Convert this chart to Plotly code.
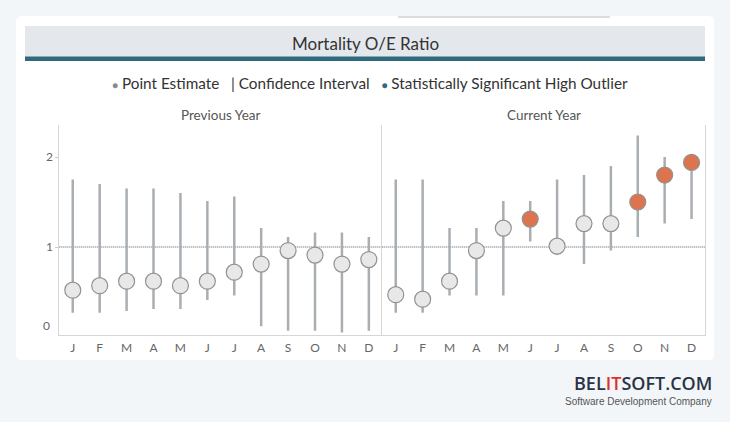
import plotly.graph_objects as go

months = ["J", "F", "M", "A", "M", "J", "J", "A", "S", "O", "N", "D"]
prev_est = [0.52, 0.57, 0.62, 0.62, 0.57, 0.62, 0.72, 0.81, 0.96, 0.91, 0.81, 0.86]
prev_low = [0.27, 0.27, 0.29, 0.31, 0.31, 0.41, 0.46, 0.12, 0.07, 0.07, 0.05, 0.07]
prev_high = [1.75, 1.70, 1.65, 1.65, 1.60, 1.51, 1.56, 1.21, 1.11, 1.16, 1.16, 1.11]
prev_outlier = [0, 0, 0, 0, 0, 0, 0, 0, 0, 0, 0, 0]
cur_est = [0.47, 0.42, 0.62, 0.96, 1.21, 1.31, 1.01, 1.26, 1.26, 1.50, 1.80, 1.94]
cur_low = [0.27, 0.27, 0.46, 0.46, 0.46, 1.06, 0.91, 0.81, 0.96, 1.11, 1.26, 1.31]
cur_high = [1.75, 1.75, 1.21, 1.21, 1.51, 1.51, 1.75, 1.80, 1.90, 2.24, 2.00, 1.94]
cur_outlier = [0, 0, 0, 0, 0, 1, 0, 0, 0, 1, 1, 1]
y_ticks = [1, 2]
ref_value = 1

W, H = 730, 422
def px(x):
    return x / W
def py(y):
    return 1 - y / H

FILL = "#e8e8e8"
ORANGE = "#dd7450"
WHISK = "#a9aeb3"
TEAL = "#2f6b7d"
FONT = "Lato"

fig = go.Figure()
idx = list(range(12))
for est, lo, hi, out, xa, ya in [
    (prev_est, prev_low, prev_high, prev_outlier, "x", "y"),
    (cur_est, cur_low, cur_high, cur_outlier, "x2", "y2"),
]:
    fig.add_trace(go.Scatter(
        x=idx, y=est, xaxis=xa, yaxis=ya, mode="markers",
        marker=dict(size=16, color=[ORANGE if o else FILL for o in out],
                    line=dict(color="#929292", width=1.2)),
        error_y=dict(type="data", symmetric=False,
                     array=[h - e for h, e in zip(hi, est)],
                     arrayminus=[e - l for e, l in zip(est, lo)],
                     width=0, thickness=2.5, color=WHISK),
        showlegend=False, hoverinfo="skip",
    ))

xa_common = dict(range=[-0.5, 11.5], tickvals=idx, ticktext=months,
                 showgrid=False, zeroline=False, showline=True, linecolor="#d6d6d6",
                 linewidth=1, ticks="", ticklabelstandoff=2,
                 tickfont=dict(family=FONT, size=12, color="#666"))
ya_common = dict(range=[0.022, 2.356], showgrid=False, zeroline=False,
                 showline=True, linecolor="#d6d6d6", linewidth=1)

fig.update_layout(
    width=W, height=H, margin=dict(l=0, r=0, t=0, b=0),
    paper_bgcolor="#f3f6f9", plot_bgcolor="white",
    xaxis=dict(domain=[px(59.3), px(382.3)], anchor="y", **xa_common),
    xaxis2=dict(domain=[px(382.3), px(705)], anchor="y2", **xa_common),
    yaxis=dict(domain=[py(335), py(125)], anchor="x", tickvals=y_ticks,
               ticktext=[str(v) for v in y_ticks], ticks="outside", ticklen=3,
               tickcolor="#cccccc", tickfont=dict(family=FONT, size=12, color="#666"),
               **ya_common),
    yaxis2=dict(domain=[py(335), py(125)], anchor="x2", showticklabels=False,
                mirror=True, **ya_common),
)

def rounded(xl, yt, xr, yb, r):
    pts = [
        f"M {px(xl + r)},{py(yt)}", f"L {px(xr - r)},{py(yt)}",
        f"Q {px(xr)},{py(yt)} {px(xr)},{py(yt + r)}", f"L {px(xr)},{py(yb - r)}",
        f"Q {px(xr)},{py(yb)} {px(xr - r)},{py(yb)}", f"L {px(xl + r)},{py(yb)}",
        f"Q {px(xl)},{py(yb)} {px(xl)},{py(yb - r)}", f"L {px(xl)},{py(yt + r)}",
        f"Q {px(xl)},{py(yt)} {px(xl + r)},{py(yt)} Z",
    ]
    return " ".join(pts)

shapes = []
shapes.append(dict(type="path", xref="paper", yref="paper", path=rounded(16, 16, 714, 360, 6),
                   fillcolor="white", line=dict(width=0), layer="below"))
shapes.append(dict(type="line", xref="paper", yref="paper", x0=px(398), x1=px(610),
                   y0=py(17), y1=py(17), line=dict(color="#dcdcdc", width=2)))
shapes.append(dict(type="rect", xref="paper", yref="paper", x0=px(25), x1=px(705),
                   y0=py(57), y1=py(26), fillcolor="#e4e8ec", line=dict(width=0)))
shapes.append(dict(type="rect", xref="paper", yref="paper", x0=px(25), x1=px(705),
                   y0=py(61), y1=py(56.5), fillcolor=TEAL, line=dict(width=0)))
for xr, yr in [("x domain", "y"), ("x2 domain", "y2")]:
    shapes.append(dict(type="line", xref=xr, yref=yr, x0=0, x1=1, y0=ref_value, y1=ref_value,
                       line=dict(color="#555555", width=1, dash="1px,1px"), layer="below"))
fig.update_layout(shapes=shapes)

def note(text, x, y, size, color, xanchor="center", family=FONT, **kw):
    return dict(text=text, x=px(x), y=py(y), xref="paper", yref="paper",
                xanchor=xanchor, yanchor="middle", showarrow=False,
                font=dict(family=family, size=size, color=color, **kw))

ann = []
ann.append(note("Mortality O/E Ratio", 365.5, 43, 17, "#333"))
legend_txt = ("<span style='color:#8a8a8a;font-size:10px'>●</span> Point Estimate"
              "&nbsp;&nbsp;&nbsp;| Confidence Interval&nbsp;&nbsp;&nbsp;"
              "<span style='color:" + TEAL + ";font-size:10px'>●</span> Statistically Significant High Outlier")
ann.append(note(legend_txt, 369.5, 83, 15.3, "#333"))
ann.append(note("Previous Year", 220.8, 115, 13.5, "#555"))
ann.append(note("Current Year", 543.6, 115, 13.5, "#555"))
ann.append(note("0", 51.5, 325, 12, "#666", xanchor="right"))
ann.append(note("BEL<span style='color:#d9342b'>IT</span>SOFT.COM", 714, 383, 18, "#2a3344",
                xanchor="right", family="Open Sans", weight=600))
ann.append(note("Software Development Company", 714, 401, 10, "#555", xanchor="right",
                family="Liberation Sans"))
fig.update_layout(annotations=ann)

fig.write_html("out.html")
